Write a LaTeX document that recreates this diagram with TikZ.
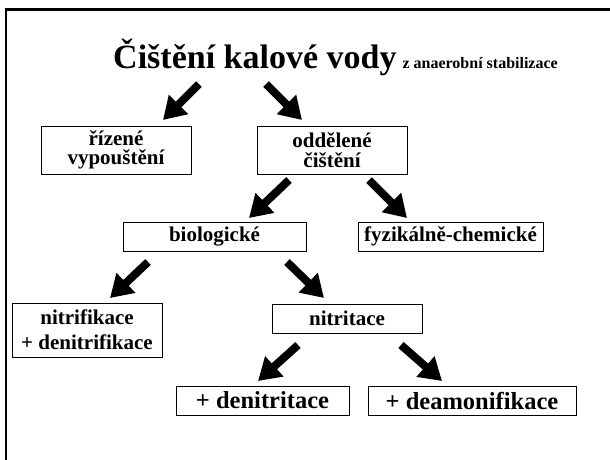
\documentclass[tikz,border=0pt]{standalone}
\usepackage{fontspec}
\setmainfont{Liberation Serif}
\usetikzlibrary{arrows.meta}
\begin{document}
\begin{tikzpicture}[x=1pt,y=-1pt,
  box/.style={draw=black, line width=0.8pt, minimum height=29pt, inner sep=0pt, align=center,
    font=\bfseries\fontsize{21}{19.5}\selectfont},
  bigbox/.style={box, font=\bfseries\fontsize{24.5}{26}\selectfont},
  bigarrow/.style={line width=8pt, -{Triangle[width=26pt,length=22pt]}}]
\useasboundingbox (0,0) rectangle (610,459);
\fill[white] (0,0) rectangle (610,459);
\draw[line width=2.5pt] (6,462) -- (6,9.5) -- (613,9.5);
% title
\node[anchor=base west, font=\bfseries, inner sep=0pt] (title) at (113,68)
  {\fontsize{34}{38}\selectfont Čištění kalové vody\hspace{2pt}{\fontsize{16}{18}\selectfont{} z anaerobní stabilizace}};
% boxes
\node[box, minimum width=150pt, minimum height=48pt] (rizene) at (116,150) {řízené\\vypouštění};
\node[box, minimum width=150pt, minimum height=48pt] (oddelene) at (332,150) {oddělené\\čištění};
\node[box, minimum width=183pt] (bio) at (214.5,236.5) {biologické};
\node[box, minimum width=185pt] (fyz) at (450.5,236.5) {fyzikálně-chemické};
\node[box, minimum width=150pt, minimum height=54pt, font=\bfseries\fontsize{21}{25}\selectfont] (nitrif) at (87,330) {nitrifikace\\+ denitrifikace};
\node[box, minimum width=150pt] (nitrit) at (347,318.5) {nitritace};
\node[bigbox, minimum width=173pt] (denit) at (262.5,400.5) {+ denitritace};
\node[bigbox, minimum width=208pt] (deam) at (472,400.5) {+ deamonifikace};
% arrow ends
\coordinate (a1s) at (199,84);  \coordinate (a1e) at (163,120);
\coordinate (a2s) at (266,84);  \coordinate (a2e) at (302,120);
\coordinate (a3s) at (289,180); \coordinate (a3e) at (249,218);
\coordinate (a4s) at (369,180); \coordinate (a4e) at (407,218);
\coordinate (a5s) at (148,262); \coordinate (a5e) at (110,298);
\coordinate (a6s) at (287,262); \coordinate (a6e) at (324,298);
\coordinate (a7s) at (298,345); \coordinate (a7e) at (258,381);
\coordinate (a8s) at (401,345); \coordinate (a8e) at (442,381);
\draw[bigarrow] (a1s) -- (a1e);
\draw[bigarrow] (a2s) -- (a2e);
\draw[bigarrow] (a3s) -- (a3e);
\draw[bigarrow] (a4s) -- (a4e);
\draw[bigarrow] (a5s) -- (a5e);
\draw[bigarrow] (a6s) -- (a6e);
\draw[bigarrow] (a7s) -- (a7e);
\draw[bigarrow] (a8s) -- (a8e);
\end{tikzpicture}
\end{document}
